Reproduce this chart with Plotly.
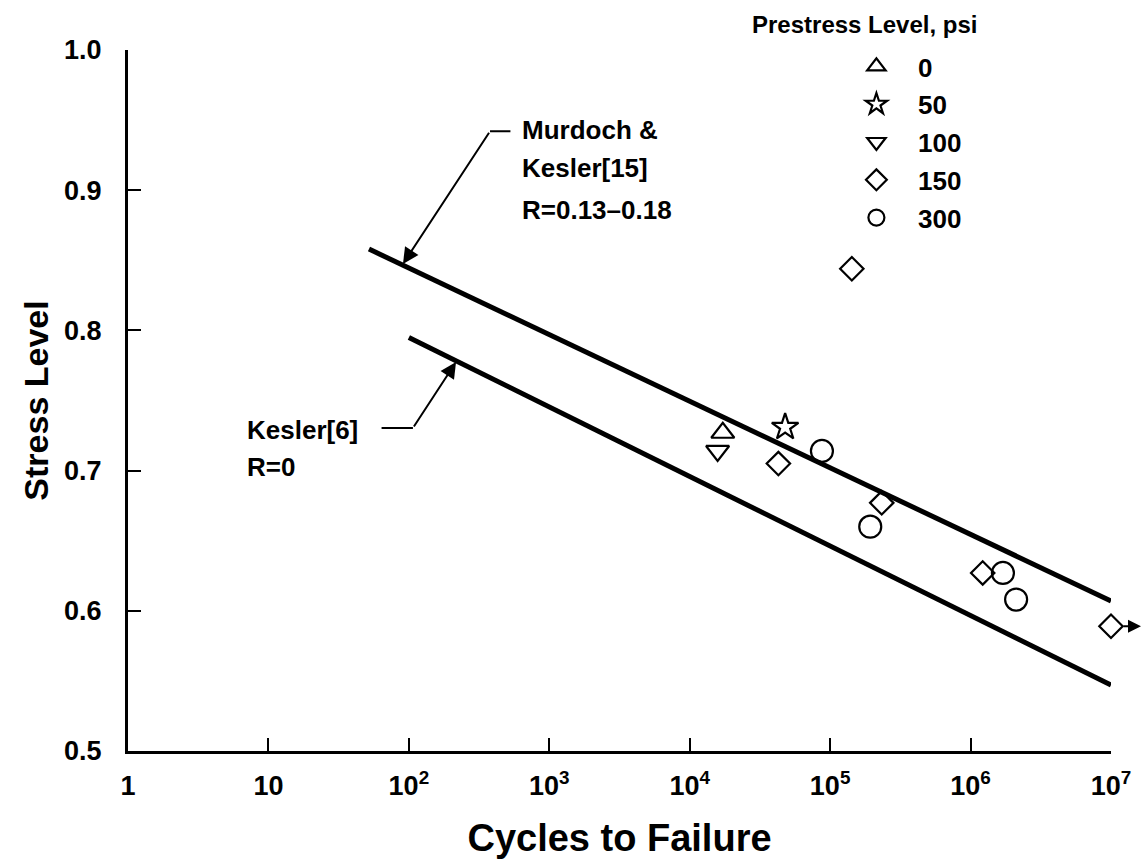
import plotly.graph_objects as go

# ---- data ----
series_names = ["0", "50", "100", "150", "300"]
series_symbols = ["triangle-up-open", "star-open", "triangle-down-open", "diamond-open", "circle-open"]

cycles_0 = [17200]
stress_0 = [0.727]
cycles_50 = [47800]
stress_50 = [0.731]
cycles_100 = [15800]
stress_100 = [0.714]
cycles_150 = [42800, 142700, 233000, 1220000, 10000000]
stress_150 = [0.705, 0.844, 0.677, 0.627, 0.589]
cycles_300 = [87400, 193000, 1700000, 2110000]
stress_300 = [0.714, 0.660, 0.627, 0.608]

murdoch_cycles = [52, 1e7]
murdoch_stress = [0.858, 0.607]
kesler_cycles = [100, 1e7]
kesler_stress = [0.795, 0.547]

x_tickvals = [1, 10, 1e2, 1e3, 1e4, 1e5, 1e6, 1e7]
x_ticktext = ["1", "10", "10<sup>2</sup>", "10<sup>3</sup>", "10<sup>4</sup>",
              "10<sup>5</sup>", "10<sup>6</sup>", "10<sup>7</sup>"]
y_tickvals = [0.5, 0.6, 0.7, 0.8, 0.9, 1.0]
y_ticktext = ["0.5", "0.6", "0.7", "0.8", "0.9", "1.0"]

FONT = "Liberation Sans"
BLACK = "#000000"

fig = go.Figure()

fig.add_trace(go.Scatter(x=murdoch_cycles, y=murdoch_stress, mode="lines",
                         line=dict(color=BLACK, width=5), showlegend=False, hoverinfo="skip"))
fig.add_trace(go.Scatter(x=kesler_cycles, y=kesler_stress, mode="lines",
                         line=dict(color=BLACK, width=5), showlegend=False, hoverinfo="skip"))

all_x = [cycles_0, cycles_50, cycles_100, cycles_150, cycles_300]
all_y = [stress_0, stress_50, stress_100, stress_150, stress_300]
sizes = [20, 20, 20, 18, 22]
pad = "\u00a0\u00a0\u00a0"
for name, sym, xs, ys, sz in zip(series_names, series_symbols, all_x, all_y, sizes):
    fig.add_trace(go.Scatter(
        x=xs, y=ys, mode="markers", name=pad + name, legendgroup=name,
        marker=dict(symbol=sym, size=sz, color=BLACK, line=dict(color=BLACK, width=2.2)),
        cliponaxis=False,
    ))

annos = []
tf = dict(family=FONT, size=26, color=BLACK, weight="bold")
# Murdoch & Kesler label
for txt, yv in [("Murdoch &", 0.943), ("Kesler[15]", 0.916), ("R=0.13\u20130.18", 0.886)]:
    annos.append(dict(x=2.791, y=yv, xref="x", yref="y", text=txt, showarrow=False,
                      xanchor="left", yanchor="middle", font=tf))
# Kesler label
for txt, yv in [("Kesler[6]", 0.729), ("R=0", 0.7026)]:
    annos.append(dict(x=0.833, y=yv, xref="x", yref="y", text=txt, showarrow=False,
                      xanchor="left", yanchor="middle", font=tf))
# leader lines
annos.append(dict(x=2.578, y=0.942, ax=2.734, ay=0.942, xref="x", yref="y", axref="x", ayref="y",
                  text="", showarrow=True, arrowhead=0, arrowwidth=2, arrowcolor=BLACK))
annos.append(dict(x=1.958, y=0.8474, ax=2.578, ay=0.942, xref="x", yref="y", axref="x", ayref="y",
                  text="", showarrow=True, arrowhead=2, arrowsize=1.6, arrowwidth=2, arrowcolor=BLACK))
annos.append(dict(x=2.029, y=0.7304, ax=1.795, ay=0.7304, xref="x", yref="y", axref="x", ayref="y",
                  text="", showarrow=True, arrowhead=0, arrowwidth=2, arrowcolor=BLACK))
annos.append(dict(x=2.336, y=0.7775, ax=2.029, ay=0.7304, xref="x", yref="y", axref="x", ayref="y",
                  text="", showarrow=True, arrowhead=2, arrowsize=1.6, arrowwidth=2, arrowcolor=BLACK))
# runout arrow (anchored on the 10^7 diamond, shifted right of it)
annos.append(dict(x=7, y=0.589, xshift=30, ax=-19, ay=0, xref="x", yref="y",
                  text="", showarrow=True, arrowhead=2, arrowsize=1.3, arrowwidth=2, arrowcolor=BLACK))
# legend title
annos.append(dict(x=0.7497, y=1.0357, xref="paper", yref="paper", text="Prestress Level, psi",
                  showarrow=False, xanchor="center", yanchor="middle",
                  font=dict(family=FONT, size=24, color=BLACK, weight="bold")))

fig.update_layout(
    width=1142, height=865,
    margin=dict(l=128, r=31, t=50, b=114, autoexpand=False),
    paper_bgcolor="white", plot_bgcolor="white",
    font=dict(family=FONT, color=BLACK),
    showlegend=True,
    legend=dict(x=0.741, y=1.01, xanchor="left", yanchor="top",
                font=dict(family=FONT, size=26, color=BLACK, weight="bold"),
                traceorder="grouped", tracegroupgap=1,
                bgcolor="rgba(0,0,0,0)", itemclick=False),
    annotations=annos,
)

fig.update_xaxes(type="log", range=[0, 7], tickvals=x_tickvals, ticktext=x_ticktext,
                 showline=True, linecolor=BLACK, linewidth=3, mirror=False,
                 ticks="inside", ticklen=13, tickwidth=2, tickcolor=BLACK,
                 showgrid=False, zeroline=False, ticklabelstandoff=9, automargin=False,
                 tickfont=dict(family=FONT, size=27, color=BLACK, weight="bold"),
                 title=dict(text="Cycles to Failure",
                            font=dict(family=FONT, size=38, color=BLACK, weight="bold"), standoff=24))
fig.update_yaxes(range=[0.5, 1.0], tickvals=y_tickvals, ticktext=y_ticktext,
                 showline=True, linecolor=BLACK, linewidth=3, mirror=False,
                 ticks="inside", ticklen=13, tickwidth=2, tickcolor=BLACK,
                 showgrid=False, zeroline=False, ticklabelstandoff=18, automargin=False,
                 tickfont=dict(family=FONT, size=27, color=BLACK, weight="bold"),
                 title=dict(text="Stress Level",
                            font=dict(family=FONT, size=34, color=BLACK, weight="bold"), standoff=6))

fig.write_html("out.html")
